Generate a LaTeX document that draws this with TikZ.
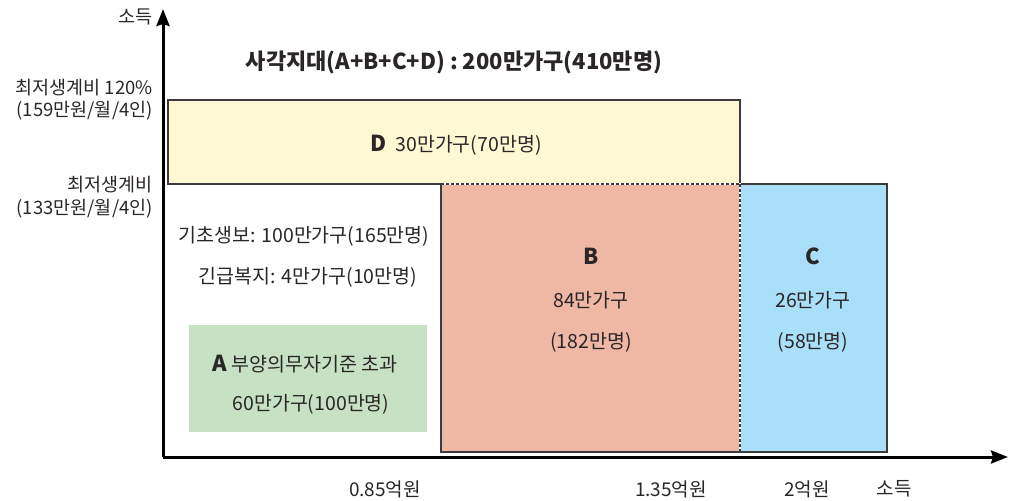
\documentclass[tikz,border=0pt]{standalone}
\usepackage{fontspec}
\setmainfont{Noto Sans CJK KR}
\usetikzlibrary{arrows.meta}
\definecolor{txt}{HTML}{2A2627}
\definecolor{edge}{HTML}{3C3C3C}
\definecolor{fillD}{HTML}{FFF8D4}
\definecolor{fillB}{HTML}{EFB8A4}
\definecolor{fillC}{HTML}{AADFF9}
\definecolor{fillA}{HTML}{C6E1C3}
\newcommand{\biglet}[1]{{\fontsize{22}{26}\selectfont\bfseries #1}}
\tikzset{
  lbl/.style={text=txt, font=\fontsize{19.5}{23}\selectfont, inner sep=0pt},
  ylbl/.style={text=txt, font=\fontsize{18.5}{22}\selectfont, inner sep=0pt, anchor=east},
  xlbl/.style={text=txt, font=\fontsize{19}{22}\selectfont, inner sep=0pt},
  ttl/.style={text=txt, font=\fontsize{22}{26}\selectfont\bfseries, inner sep=0pt},
  big/.style={text=txt, font=\fontsize{22}{26}\selectfont\bfseries, inner sep=0pt},
  axis/.style={line width=3pt, black, -{Stealth[length=17pt,width=13pt,inset=2pt]}},
  boxedge/.style={draw=edge, line width=1.4pt},
  dashedge/.style={draw=edge, line width=1.2pt, dash pattern=on 3pt off 2pt},
}
\begin{document}
\begin{tikzpicture}[x=1pt,y=-1pt]
\useasboundingbox (0,0) rectangle (1013,501);
% regions
\fill[fillD] (168,100) rectangle (740,184);
\fill[fillB] (441,184) rectangle (740,452);
\fill[fillC] (740,184) rectangle (887,452);
\fill[fillA] (189,325) rectangle (427,432);
% borders
\draw[boxedge] (441,184) -- (168,184) -- (168,100) -- (740,100) -- (740,184) -- (887,184) -- (887,452) -- (441,452) -- cycle;
\draw[white, line width=1.2pt] (441,184) -- (740,184) -- (740,452);
\draw[dashedge] (441,184) -- (740,184);
\draw[dashedge] (740,184) -- (740,452);
% axes
\coordinate (O) at (163,457);
\coordinate (ytip) at (163,9);
\coordinate (xtip) at (1008,457);
\draw[axis] (O) -- (ytip);
\draw[axis] (O) -- (xtip);
% y labels
\node[ylbl] (ylab) at (153,17) {소득};
\node[ylbl] (l120a) at (153,88) {최저생계비 120\%};
\node[ylbl] (l120b) at (153,111) {(159만원/월/4인)};
\node[ylbl] (l100a) at (153,185) {최저생계비};
\node[ylbl] (l100b) at (153,209) {(133만원/월/4인)};
% title
\node[ttl] (title) at (454,62) {사각지대(A+B+C+D) : 200만가구(410만명)};
% D
\node[lbl] (dtxt) at (456,145) {\biglet{D}\hspace{9pt}30만가구(70만명)};
% left texts
\node[lbl] (kc) at (304,236) {기초생보: 100만가구(165만명)};
\node[lbl] (kb) at (308,277) {긴급복지: 4만가구(10만명)};
\node[lbl] (a1) at (305,364) {\biglet{A}\hspace{5pt}부양의무자기준 초과};
\node[lbl] (a2) at (311,404) {60만가구(100만명)};
% B
\node[big] (bl) at (591,256) {B};
\node[lbl] (b1) at (591,300) {84만가구};
\node[lbl] (b2) at (591,342) {(182만명)};
% C
\node[big] (cl) at (813,256) {C};
\node[lbl] (c1) at (813,300) {26만가구};
\node[lbl] (c2) at (813,342) {(58만명)};
% x labels
\node[xlbl] (x1) at (385,489) {0.85억원};
\node[xlbl] (x2) at (671,489) {1.35억원};
\node[xlbl] (x3) at (807,489) {2억원};
\node[xlbl] (x4) at (894,489) {소득};
\end{tikzpicture}
\end{document}
